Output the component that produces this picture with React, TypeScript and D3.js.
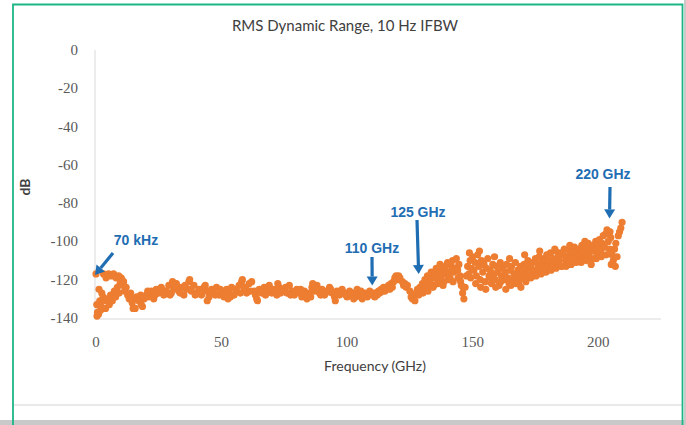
import React from "react";
import * as d3 from "d3";

const W = 686;
const H = 425;

const title = "RMS Dynamic Range, 10 Hz IFBW";
const xTicks = [0, 50, 100, 150, 200];
const yTicks = [0, -20, -40, -60, -80, -100, -120, -140];

// Segment 0-21 GHz
const freqA = [0, 0.3, 0.6, 1, 1.2, 1.5, 2, 2.3, 2.8, 3,
  3.3, 3.8, 4, 4.5, 5, 5.3, 5.8, 6, 6.5, 7,
  7.3, 7.8, 8, 8.5, 9, 9.2, 9.6, 10, 10.3, 10.8,
  11, 11.4, 12, 12.6, 13.2, 13.8, 14.4, 15, 15.6, 16.2,
  17, 17.8, 18.5, 19.2, 20, 20.6, 0.4, 1.8, 14.8, 18];
const dbA = [-117, -133, -137, -138, -125, -131, -134, -127, -129, -117,
  -131, -135, -119, -130, -117, -133, -128, -118, -131, -117,
  -126, -129, -119, -124, -118, -127, -122, -119, -120, -123,
  -121, -126, -124, -128, -130, -127, -132, -130, -135, -129,
  -131, -128, -134, -130, -128, -126, -139, -136, -135, -133];

// Segment 21-110 GHz
const freqB = [21, 22, 23, 24, 25, 26, 27, 28, 29, 30,
  31, 32, 33, 34, 35, 36, 37, 38, 39, 40,
  41, 42, 43, 44, 45, 46, 47, 48, 49, 50,
  51, 52, 53, 54, 55, 56, 57, 58, 59, 60,
  61, 62, 63, 64, 65, 66, 67, 68, 69, 70,
  71, 72, 73, 74, 75, 76, 77, 78, 79, 80,
  81, 82, 83, 84, 85, 86, 87, 88, 89, 90,
  91, 92, 93, 94, 95, 96, 97, 98, 99, 100,
  101, 102, 103, 104, 105, 106, 107, 108, 109, 110,
  21.5, 23.5, 25.5, 27.5, 29.5, 31.5, 33.5, 35.5, 37.5, 39.5,
  41.5, 43.5, 45.5, 47.5, 49.5, 51.5, 53.5, 55.5, 57.5, 59.5,
  61.5, 63.5, 65.5, 67.5, 69.5, 71.5, 73.5, 75.5, 77.5, 79.5,
  81.5, 83.5, 85.5, 87.5, 89.5, 91.5, 93.5, 95.5, 97.5, 99.5,
  101.5, 103.5, 105.5, 107.5, 109.5,
  30.5, 37.3, 44.3, 58.3, 64.3, 86.3, 95.3, 52.6, 72.4, 102.6];
const dbB = [-129, -126, -130, -125, -127, -124, -128, -126, -123, -127,
  -125, -122, -126, -124, -128, -125, -121, -126, -123, -127,
  -125, -128, -124, -126, -129, -125, -127, -124, -128, -126,
  -129, -125, -127, -124, -128, -126, -123, -121, -125, -127,
  -122, -121, -126, -130, -125, -127, -124, -126, -123, -127,
  -125, -128, -124, -126, -125, -127, -123, -126, -128, -125,
  -127, -129, -126, -130, -127, -124, -126, -123, -127, -125,
  -128, -126, -124, -127, -129, -126, -128, -125, -127, -129,
  -126, -128, -127, -125, -128, -130, -127, -129, -126, -128,
  -127, -128, -125, -126, -128, -124, -127, -123, -125, -128,
  -126, -123, -126, -128, -125, -127, -129, -125, -127, -124,
  -126, -128, -126, -128, -125, -126, -127, -124, -128, -126,
  -125, -128, -129, -125, -128, -127, -125, -127, -126, -128,
  -127, -129, -126, -128, -127,
  -121, -120, -131, -120, -131, -122, -131, -130, -122, -130];

// Segment 110-130 GHz
const freqC = [110.5, 111, 111.5, 112, 112.5, 113, 113.5, 114, 114.5, 115,
  115.5, 116, 116.5, 117, 117.5, 118, 118.5, 119, 119.5, 120,
  120.5, 121, 122, 122.5, 123, 123.5, 124, 125, 125.5, 126,
  126.5, 127, 127.5, 128, 128.5, 129, 129.5, 130];
const dbC = [-127, -129, -127, -128, -126, -127, -125, -126, -124, -126,
  -125, -124, -123, -125, -122, -124, -121, -119, -118, -120,
  -118, -119, -121, -123, -122, -124, -123, -126, -129, -130,
  -128, -131, -127, -125, -128, -124, -126, -122];

// Segment 130-210 GHz
const freqD = [130.5, 131, 131.5, 132, 132.5, 133, 133.5, 134, 134.5, 135,
  135.5, 136, 136.5, 137, 137.5, 138, 138.5, 139, 139.5, 140,
  140.5, 141, 141.5, 142, 142.5, 143, 143.5, 144, 144.5, 145,
  145.5, 146, 146.5, 147, 147.5, 148, 148.5, 149, 149.5, 150,
  150.5, 151, 151.5, 152, 152.5, 153, 153.5, 154, 154.5, 155,
  155.5, 156, 156.5, 157, 157.5, 158, 158.5, 159, 159.5, 160,
  160.5, 161, 161.5, 162, 162.5, 163, 163.5, 164, 164.5, 165,
  165.5, 166, 166.5, 167, 167.5, 168, 168.5, 169, 169.5, 170,
  170.5, 171, 171.5, 172, 172.5, 173, 173.5, 174, 174.5, 175,
  175.5, 176, 176.5, 177, 177.5, 178, 178.5, 179, 179.5, 180,
  180.5, 181, 181.5, 182, 182.5, 183, 183.5, 184, 184.5, 185,
  185.5, 186, 186.5, 187, 187.5, 188, 188.5, 189, 189.5, 190,
  190.5, 191, 191.5, 192, 192.5, 193, 193.5, 194, 194.5, 195,
  195.5, 196, 196.5, 197, 197.5, 198, 198.5, 199, 199.5, 200,
  200.5, 201, 201.5, 202, 202.5, 203, 203.5, 204, 204.5, 205,
  205.5, 206, 206.5, 207, 207.5, 208, 208.5, 209, 209.5,
  130.2, 132.2, 134.2, 136.2, 138.2, 140.2, 142.2, 144.2, 145.2, 146.2,
  149.2, 151.2, 153.2, 155.2, 157.2, 159.2, 161.2, 163.2, 165.2, 167.2,
  169.2, 171.2, 173.2, 175.2, 177.2, 179.2, 181.2, 183.2, 185.2, 187.2,
  189.2, 191.2, 193.2, 195.2, 197.2, 199.2, 201.2, 203.2, 205.2, 206.8,
  148.7, 152.7, 158.7, 164.7, 170.7, 176.7, 182.7, 188.7, 194.7, 204.7];
const dbD = [-125, -120, -122, -118, -124, -121, -116, -119, -123, -117,
  -114, -120, -116, -112, -118, -115, -121, -113, -117, -111,
  -116, -119, -113, -110, -116, -114, -109, -115, -112, -118,
  -123, -127, -130, -124, -118, -113, -117, -110, -114, -108,
  -115, -111, -118, -107, -113, -120, -110, -116, -112, -121,
  -114, -109, -118, -115, -122, -112, -117, -120, -113, -116,
  -123, -111, -118, -114, -120, -116, -112, -119, -122, -115,
  -113, -120, -117, -111, -118, -115, -121, -113, -116, -119,
  -112, -117, -114, -110, -118, -113, -116, -111, -115, -109,
  -117, -112, -108, -114, -111, -116, -109, -113, -107, -112,
  -110, -106, -114, -109, -111, -105, -112, -108, -110, -106,
  -113, -107, -104, -110, -108, -112, -105, -109, -106, -111,
  -103, -108, -106, -110, -104, -107, -102, -109, -105, -103,
  -108, -101, -106, -104, -109, -102, -105, -100, -107, -103,
  -99, -105, -101, -97, -103, -96, -94, -100, -104, -98,
  -107, -110, -104, -101, -108, -97, -95, -93, -90,
  -127, -126, -124, -122, -123, -120, -121, -119, -121, -124,
  -119, -122, -124, -125, -119, -124, -121, -125, -123, -122,
  -124, -121, -119, -118, -117, -116, -115, -114, -113, -113,
  -112, -111, -111, -110, -112, -109, -108, -107, -112, -113,
  -106, -105, -108, -109, -107, -105, -104, -102, -100, -95];

const annoLabels = ["70 kHz", "110 GHz", "125 GHz", "220 GHz"];

const ORANGE = "#ED7D31";
const BLUE = "#1F6DB3";

export default function App() {
  const x = d3.scaleLinear().domain([0, 225]).range([96, 661]);
  const y = d3.scaleLinear().domain([-140, 0]).range([318, 50]);

  const pts: [number, number][] = [];
  const add = (fs: number[], ds: number[]) => fs.forEach((f, i) => pts.push([f, ds[i]]));
  add(freqA, dbA);
  add(freqB, dbB);
  add(freqC, dbC);
  add(freqD, dbD);

  const annos = [
    { label: annoLabels[0], tx: 136, ty: 245, x1: 113, y1: 253, tipX: 95, tipDb: -117.5 },
    { label: annoLabels[1], tx: 372, ty: 253, x1: 372, y1: 257, tipX: x(110), tipDb: -123 },
    { label: annoLabels[2], tx: 418, ty: 217, x1: 417, y1: 220, tipX: x(128.5), tipDb: -117 },
    { label: annoLabels[3], tx: 603, ty: 179, x1: 610, y1: 187, tipX: x(204.5), tipDb: -88 },
  ];

  const arrowPath = (x1: number, y1: number, x2: number, y2: number) => {
    const ang = Math.atan2(y2 - y1, x2 - x1);
    const hl = 9, hw = 5.5;
    const bx = x2 - hl * Math.cos(ang);
    const by = y2 - hl * Math.sin(ang);
    const px = -Math.sin(ang), py = Math.cos(ang);
    return {
      line: [x1, y1, bx, by],
      head: `${x2},${y2} ${bx + px * hw},${by + py * hw} ${bx - px * hw},${by - py * hw}`,
    };
  };

  return (
    <div style={{ position: "absolute", left: 0, top: 0, width: W, height: H, background: "#fff" }}>
      <svg width={W} height={H} style={{ display: "block" }}>
        <rect x={0} y={0} width={W} height={H} fill="#fff" />
        <line x1={13} x2={682} y1={405} y2={405} stroke="#e2e2e2" strokeWidth={1.5} />
        <rect x={0} y={420} width={W} height={5} fill="#c9c9c9" />
        <rect x={684} y={0} width={2} height={H} fill="#c9c9c9" />
        <path d={`M13,${H} L13,4.5 L682.5,4.5 L682.5,${H}`} fill="none" stroke="#1DB585" strokeWidth={1.8} />

        <text x={345} y={31} textAnchor="middle" fontFamily="Lato, 'Open Sans', sans-serif" fontSize={15} fill="#404040">
          {title}
        </text>

        <line x1={95} x2={95} y1={y(0)} y2={y(-140)} stroke="#d9d9d9" strokeWidth={1} />
        <line x1={95} x2={661} y1={y(-140) + 1} y2={y(-140) + 1} stroke="#d9d9d9" strokeWidth={1} />

        {yTicks.map((t) => (
          <text key={t} x={78} y={y(t) + 5} textAnchor="end" fontFamily="'Liberation Serif', 'DejaVu Serif', serif" fontSize={15} fill="#595959">
            {t}
          </text>
        ))}
        {xTicks.map((t) => (
          <text key={t} x={x(t)} y={347} textAnchor="middle" fontFamily="'Liberation Serif', 'DejaVu Serif', serif" fontSize={15} fill="#595959">
            {t}
          </text>
        ))}

        <text x={375} y={371} textAnchor="middle" fontFamily="Lato, 'Open Sans', sans-serif" fontSize={14} fill="#404040">
          Frequency (GHz)
        </text>
        <text transform="translate(30,187) rotate(-90)" textAnchor="middle" fontFamily="Lato, 'Open Sans', sans-serif" fontWeight="bold" fontSize={14} fill="#404040">
          dB
        </text>

        <g>
          {pts.map((p, i) => (
            <circle key={i} cx={x(p[0])} cy={y(p[1])} r={3.6} fill={ORANGE} />
          ))}
        </g>

        {annos.map((a) => {
          const ar = arrowPath(a.x1, a.y1, a.tipX, y(a.tipDb));
          return (
            <g key={a.label}>
              <text x={a.tx} y={a.ty} textAnchor="middle" fontFamily="'Liberation Sans', Arial, sans-serif" fontWeight="bold" fontSize={14} fill={BLUE}>
                {a.label}
              </text>
              <line x1={ar.line[0]} y1={ar.line[1]} x2={ar.line[2]} y2={ar.line[3]} stroke={BLUE} strokeWidth={3.2} />
              <polygon points={ar.head} fill={BLUE} />
            </g>
          );
        })}
      </svg>
    </div>
  );
}
